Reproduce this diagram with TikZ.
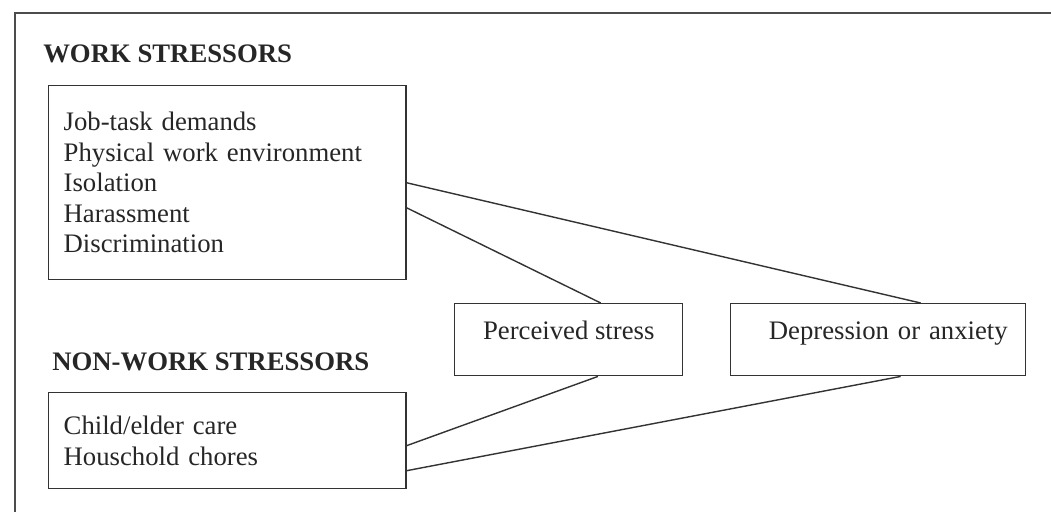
\documentclass[tikz,border=0pt]{standalone}
\usepackage{fontspec}
\setmainfont{Liberation Serif}
\newcommand{\diagfont}{\fontsize{19}{21.7}\selectfont}

\begin{document}
\begin{tikzpicture}[
    x=0.025cm, y=-0.025cm,
    headlabel/.style={anchor=base west, inner sep=0pt, font=\diagfont\bfseries, text=black!85},
    stressbox/.style={draw=black!80, line width=1pt, anchor=north west, align=left, inner xsep=0.375cm, text width=8.175cm, font=\diagfont, text=black!85},
    outbox/.style={draw=black!80, line width=1pt, anchor=north west, minimum height=1.8cm, text height=0.4cm, text depth=0.4cm, font=\diagfont, text=black!85},
    link/.style={draw=black!80, line width=1pt}
]
    \useasboundingbox (0,0) rectangle (1051,512);

    % Frame (top and left edges)
    \draw[black!70, line width=1.1pt] (14,13) -- (1051,13);
    \draw[black!70, line width=1.1pt] (15,13) -- (15,512);

    % Work stressors
    \node[headlabel] (workhead) at (43,63) {WORK STRESSORS};
    \node[stressbox, minimum height=4.85cm] (work) at (48,85) {Job-task demands\\Physical work environment\\Isolation\\Harassment\\Discrimination};

    % Non-work stressors
    \node[headlabel] (homehead) at (52,370) {NON-WORK STRESSORS};
    \node[stressbox, minimum height=2.4cm] (home) at (48,392) {Child/elder care\\Houschold chores};

    % Outcomes
    \node[outbox, minimum width=5.7cm] (perc) at (454,303) {Perceived stress};
    \node[outbox, inner xsep=0.45cm, text width=6.475cm, align=right] (dep) at (730,303) {Depression or anxiety};

    % Links
    \draw[link] (work.east) -- ([xshift=1.06cm]dep.north);
    \draw[link] ([yshift=-0.625cm]work.east) -- ([xshift=0.8cm]perc.north);
    \draw[link] ([yshift=-0.125cm]home.east) -- ([xshift=0.73cm]perc.south);
    \draw[link] ([yshift=-0.75cm]home.east) -- ([xshift=0.56cm]dep.south);

\end{tikzpicture}
\end{document}
